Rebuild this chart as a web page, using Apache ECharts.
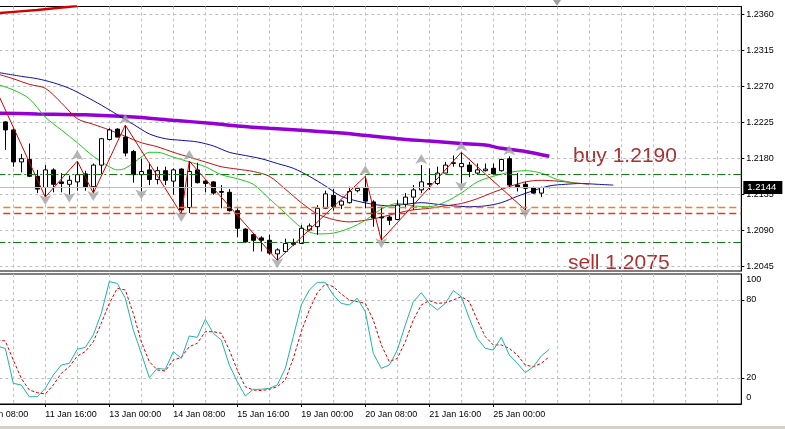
<!DOCTYPE html>
<html lang="en">
<head>
<meta charset="UTF-8">
<title>EURUSD H4</title>
<script src="https://cdn.jsdelivr.net/npm/echarts@6/dist/echarts.min.js"></script>
<style>
  html, body { margin: 0; padding: 0; background: #fff; }
  #chart { width: 785px; height: 429px; }
</style>
</head>
<body>
<div id="chart"></div>
<script>
    // category 0 sits three bars left of the first visible candle
    var firstBar = -3;
    var barCount = 96;
    function cat(b) { return b - firstBar; }

    var timeLabels = ['8 Jan 08:00', '11 Jan 16:00', '13 Jan 00:00', '14 Jan 08:00', '15 Jan 16:00',
        '19 Jan 00:00', '20 Jan 08:00', '21 Jan 16:00', '25 Jan 00:00'];
    var priceTicks = [1.2045, 1.2090, 1.2135, 1.2180, 1.2225, 1.2270, 1.2315, 1.2360];
    var stochTicks = [0, 20, 80, 100];

    // H4 bars 0..68
    var opens = [1.2226, 1.2216, 1.2176, 1.2179, 1.2158, 1.2144, 1.2166, 1.2151, 1.2148, 1.2151,
        1.2161, 1.2145, 1.2172, 1.2204, 1.2217, 1.2207, 1.2189, 1.2160, 1.2166, 1.2154,
        1.2165, 1.2152, 1.2167, 1.2119, 1.2166, 1.2152, 1.2151, 1.2139, 1.2138, 1.2115,
        1.2092, 1.2085, 1.2081, 1.2078, 1.2061, 1.2064, 1.2075, 1.2074, 1.2091, 1.2095,
        1.2118, 1.2134, 1.2122, 1.2125, 1.2140, 1.2143, 1.2126, 1.2107, 1.2107, 1.2104,
        1.2123, 1.2132, 1.2141, 1.2149, 1.2149, 1.2162, 1.2174, 1.2170, 1.2172, 1.2162,
        1.2165, 1.2168, 1.2165, 1.2180, 1.2147, 1.2148, 1.2144, 1.2137, 1.2144];
    var highs = [1.2227, 1.2218, 1.2186, 1.2199, 1.2166, 1.2172, 1.2168, 1.2162, 1.2159, 1.2177,
        1.2165, 1.2174, 1.2206, 1.2218, 1.2218, 1.2222, 1.2191, 1.2180, 1.2175, 1.2170,
        1.2170, 1.2168, 1.2168, 1.2177, 1.2175, 1.2153, 1.2152, 1.2147, 1.2142, 1.2118,
        1.2093, 1.2087, 1.2083, 1.2085, 1.2068, 1.2080, 1.2080, 1.2097, 1.2099, 1.2122,
        1.2140, 1.2142, 1.2128, 1.2145, 1.2145, 1.2158, 1.2128, 1.2120, 1.2109, 1.2128,
        1.2137, 1.2147, 1.2172, 1.2168, 1.2170, 1.2176, 1.2184, 1.2188, 1.2176, 1.2174,
        1.2174, 1.2174, 1.2180, 1.2183, 1.2162, 1.2151, 1.2145, 1.2145, 1.2145];
    var lows = [1.2191, 1.2170, 1.2163, 1.2157, 1.2137, 1.2132, 1.2138, 1.2138, 1.2135, 1.2140,
        1.2140, 1.2137, 1.2161, 1.2203, 1.2207, 1.2183, 1.2150, 1.2139, 1.2147, 1.2148,
        1.2147, 1.2135, 1.2111, 1.2112, 1.2149, 1.2138, 1.2135, 1.2118, 1.2114, 1.2082,
        1.2075, 1.2064, 1.2064, 1.2060, 1.2053, 1.2062, 1.2071, 1.2074, 1.2090, 1.2085,
        1.2117, 1.2115, 1.2117, 1.2124, 1.2138, 1.2118, 1.2095, 1.2078, 1.2097, 1.2103,
        1.2118, 1.2116, 1.2137, 1.2141, 1.2147, 1.2162, 1.2170, 1.2149, 1.2157, 1.2160,
        1.2164, 1.2160, 1.2164, 1.2143, 1.2139, 1.2116, 1.2136, 1.2132, 1.2143];
    var closes = [1.2216, 1.2176, 1.2180, 1.2158, 1.2142, 1.2166, 1.2148, 1.2149, 1.2153, 1.2160,
        1.2145, 1.2172, 1.2205, 1.2216, 1.2207, 1.2187, 1.2160, 1.2164, 1.2154, 1.2165,
        1.2153, 1.2166, 1.2116, 1.2164, 1.2150, 1.2149, 1.2137, 1.2138, 1.2115, 1.2093,
        1.2076, 1.2078, 1.2078, 1.2062, 1.2066, 1.2074, 1.2073, 1.2093, 1.2096, 1.2118,
        1.2136, 1.2120, 1.2127, 1.2139, 1.2143, 1.2127, 1.2106, 1.2106, 1.2103, 1.2122,
        1.2132, 1.2141, 1.2151, 1.2148, 1.2162, 1.2172, 1.2175, 1.2174, 1.2164, 1.2166,
        1.2167, 1.2161, 1.2179, 1.2147, 1.2145, 1.2143, 1.2137, 1.2144, 1.2144];

    // [bar, price]
    var zigzag = [[-1, 1.2263], [5, 1.2132], [9, 1.2177], [11, 1.2137], [15, 1.2222], [22, 1.2111],
        [23, 1.2177], [34, 1.2053], [45, 1.2158], [47, 1.2078], [57, 1.2188], [65, 1.2116]];
    var fractalUp = [9, 15, 23, 45, 52, 57, 63];
    var fractalDown = [5, 8, 11, 17, 22, 34, 47, 57, 65];

    var maSlow = [[-1, 1.2237], [4, 1.2236], [10, 1.2235], [16, 1.2232], [21, 1.2228], [26, 1.2224],
        [29, 1.2221], [33, 1.2218], [38, 1.2215], [42, 1.2212], [46, 1.2208], [49, 1.2205],
        [53, 1.2202], [57, 1.2199], [60, 1.2197], [62, 1.2193], [65, 1.2189], [68, 1.2183]];
    var maTop = [[-1, 1.2362], [4, 1.2366], [9, 1.2371]];
    var jaw = [[-1, 1.2288], [2, 1.2283], [4, 1.2280], [6, 1.2275], [8, 1.2268], [10, 1.2258],
        [12, 1.2247], [14, 1.2235], [16, 1.2223], [18, 1.2211], [20, 1.2205], [22, 1.2203],
        [24, 1.2201], [26, 1.2196], [28, 1.2188], [30, 1.2184], [32, 1.2180], [34, 1.2174],
        [36, 1.2168], [38, 1.2158], [40, 1.2146], [42, 1.2133], [44, 1.2127], [46, 1.2123],
        [48, 1.2121], [50, 1.2123], [52, 1.2125], [54, 1.2123], [56, 1.2121], [58, 1.2120],
        [60, 1.2121], [62, 1.2125], [64, 1.2133], [66, 1.2140], [68, 1.2146], [70, 1.2148],
        [72, 1.2149], [74, 1.2148], [76, 1.2147]];
    var teeth = [[-1, 1.2286], [1, 1.2280], [3, 1.2273], [5, 1.2268], [7, 1.2250], [9, 1.2230],
        [11, 1.2223], [13, 1.2216], [15, 1.2208], [17, 1.2200], [19, 1.2195], [21, 1.2188],
        [23, 1.2182], [25, 1.2176], [27, 1.2170], [29, 1.2167], [31, 1.2164], [33, 1.2158],
        [35, 1.2142], [37, 1.2125], [39, 1.2111], [41, 1.2104], [43, 1.2101], [45, 1.2103],
        [47, 1.2107], [49, 1.2112], [51, 1.2116], [53, 1.2118], [55, 1.2121], [57, 1.2124],
        [59, 1.2130], [61, 1.2138], [63, 1.2145], [65, 1.2151], [67, 1.2153], [69, 1.2152],
        [71, 1.2150], [73, 1.2148]];
    var lips = [[-1, 1.2273], [1, 1.2266], [3, 1.2255], [5, 1.2232], [7, 1.2216], [9, 1.2200],
        [11, 1.2183], [13, 1.2170], [14, 1.2166], [15, 1.2168], [17, 1.2182], [18, 1.2188],
        [19, 1.2188], [21, 1.2182], [23, 1.2176], [25, 1.2170], [27, 1.2160], [29, 1.2155],
        [31, 1.2148], [33, 1.2130], [35, 1.2112], [37, 1.2094], [39, 1.2086], [41, 1.2087],
        [43, 1.2093], [45, 1.2103], [47, 1.2117], [49, 1.2124], [51, 1.2121], [53, 1.2120],
        [55, 1.2126], [57, 1.2137], [59, 1.2151], [61, 1.2158], [63, 1.2163], [65, 1.2165],
        [67, 1.2162], [69, 1.2154], [71, 1.2150]];

    // stochastic, from bar -1 to bar 68
    var stochMain = [44.5, 42.8, 15.9, 14.6, 5.6, 5.6, 12.1, 22.3, 30.0, 31.3, 42.1, 43.6, 53.1, 69.7,
        94.1, 92.8, 81.3, 56.9, 39.0, 20.3, 27.4, 26.7, 40.3, 35.1, 52.3, 51.3, 65.1, 54.4, 49.2,
        30.0, 17.2, 6.2, 11.3, 11.3, 12.1, 14.6, 27.4, 51.8, 76.2, 87.7, 93.6, 93.6, 83.8, 77.4,
        76.2, 81.3, 71.0, 39.0, 27.4, 30.0, 41.5, 60.8, 78.7, 85.6, 77.4, 72.3, 77.4, 87.2, 82.6,
        65.9, 50.5, 42.8, 41.5, 51.3, 37.7, 31.3, 24.1, 28.7, 36.9, 42.1];
    var stochSignal = [49.2, 48.5, 33.8, 19.7, 10.8, 8.7, 7.7, 14.6, 23.6, 28.7, 36.9, 40.3, 47.9, 62.1,
        77.4, 89.0, 87.7, 69.7, 47.9, 32.6, 26.2, 25.4, 33.8, 35.9, 44.1, 46.7, 55.6, 55.6, 54.4,
        41.5, 26.2, 13.3, 10.8, 10.3, 11.3, 13.3, 18.5, 35.1, 55.6, 72.3, 85.6, 92.3, 90.3, 84.6,
        80.0, 78.7, 77.4, 64.6, 45.4, 32.6, 35.1, 47.9, 64.6, 76.2, 79.5, 77.4, 77.9, 80.0, 82.6,
        78.7, 64.6, 51.8, 45.4, 45.4, 42.8, 37.7, 30.0, 28.7, 31.3, 36.4];
    var stochFirstBar = -1;

    var bid = 1.2144;
    var buyLine = 1.2160;
    var sellLine = 1.2075;
    var orderA = 1.2119;
    var orderB = 1.2112;

    var categories = [];
    for (var i = 0; i < barCount; i++) categories.push(String(i + firstBar));

    function pairs(list) {
        return list.map(function (p) { return [cat(p[0]), p[1]]; });
    }
    function stochPairs(list) {
        return list.map(function (v, k) { return [cat(k + stochFirstBar), v]; });
    }

    var candleData = opens.map(function (o, i) {
        return [cat(i), o, closes[i], lows[i], highs[i]];
    });

    var font = '"Liberation Sans", Arial, sans-serif';
    var gridDash = { color: '#c0c0c0', type: [3, 3], width: 1 };

    function xAxisFor(gridIndex, withLabels) {
        return {
            type: 'category',
            gridIndex: gridIndex,
            data: categories,
            boundaryGap: false,
            axisLine: { show: withLabels, lineStyle: { color: '#000' } },
            axisTick: {
                show: withLabels,
                length: 3,
                lineStyle: { color: '#000' },
                interval: function (idx) { return idx % 8 === 0 && idx / 8 < timeLabels.length; }
            },
            axisLabel: {
                show: withLabels,
                align: 'left',
                margin: 6,
                color: '#000',
                fontSize: 9,
                fontFamily: font,
                interval: function (idx) { return idx % 8 === 0 && idx / 8 < timeLabels.length; },
                formatter: function (val, idx) { return timeLabels[idx / 8] || ''; }
            },
            splitLine: {
                show: true,
                interval: function (idx) { return idx % 4 === 0; },
                lineStyle: gridDash
            }
        };
    }

    var chart = echarts.init(document.getElementById('chart'));
    chart.setOption({
        animation: false,
        backgroundColor: '#fff',
        grid: [
            { left: -18.7, right: 43.7, top: 6.5, height: 264.5, outerBoundsMode: 'none', containLabel: false,
              show: true, borderColor: '#000', borderWidth: 1, backgroundColor: '#fff' },
            { left: -18.7, right: 43.7, top: 274, height: 130, outerBoundsMode: 'none', containLabel: false,
              show: true, borderColor: '#000', borderWidth: 1, backgroundColor: '#fff' }
        ],
        xAxis: [xAxisFor(0, false), xAxisFor(1, true)],
        yAxis: [
            {
                type: 'value',
                gridIndex: 0,
                position: 'right',
                min: 1.20396,
                max: 1.23703,
                axisLine: { show: true, lineStyle: { color: '#000' } },
                axisTick: { show: true, length: 3, customValues: priceTicks, lineStyle: { color: '#000' } },
                axisLabel: {
                    customValues: priceTicks,
                    margin: 5,
                    color: '#000',
                    fontSize: 9,
                    fontFamily: font,
                    formatter: function (v) { return v.toFixed(4); }
                },
                splitLine: { show: true, lineStyle: gridDash }
            },
            {
                type: 'value',
                gridIndex: 1,
                position: 'right',
                min: 0,
                max: 100,
                axisLine: { show: true, lineStyle: { color: '#000' } },
                axisTick: { show: true, length: 3, customValues: [20, 80], lineStyle: { color: '#000' } },
                axisLabel: {
                    customValues: stochTicks,
                    margin: 5,
                    color: '#000',
                    fontSize: 9,
                    fontFamily: font,
                    formatter: function (v) {
                        if (v === 100) return '{t|100}';
                        if (v === 0) return '{b|0}';
                        return String(v);
                    },
                    rich: {
                        t: { fontSize: 9, fontFamily: font, color: '#000', padding: [12, 0, 0, 0] },
                        b: { fontSize: 9, fontFamily: font, color: '#000', padding: [0, 0, 12, 0] }
                    }
                },
                splitLine: { show: true, lineStyle: gridDash }
            }
        ],
        series: [
            {
                name: 'levels',
                type: 'line',
                xAxisIndex: 0,
                yAxisIndex: 0,
                data: [],
                z: 1,
                markLine: {
                    silent: true,
                    symbol: 'none',
                    precision: 4,
                    animation: false,
                    label: { show: false },
                    data: [
                        { yAxis: buyLine, lineStyle: { color: '#137a13', type: [8, 3, 2, 3], width: 1 } },
                        { yAxis: sellLine, lineStyle: { color: '#137a13', type: [8, 3, 2, 3], width: 1 } },
                        { yAxis: orderA, lineStyle: { color: '#ff7a1a', type: [7, 4], width: 1.3 } },
                        { yAxis: orderB, lineStyle: { color: '#e23a1c', type: [7, 4], width: 1.3 } },
                        {
                            yAxis: bid,
                            lineStyle: { color: '#bdbdbd', type: 'solid', width: 1 },
                            label: {
                                show: true,
                                position: 'end',
                                distance: 2,
                                formatter: bid.toFixed(4),
                                backgroundColor: '#000',
                                color: '#fff',
                                fontSize: 9.5,
                                fontFamily: font,
                                padding: [2, 6, 1, 4]
                            }
                        }
                    ]
                }
            },
            {
                name: 'MA top',
                type: 'line',
                data: pairs(maTop),
                symbol: 'none',
                smooth: 0.3,
                lineStyle: { color: '#d40000', width: 2.5 },
                z: 2
            },
            {
                name: 'MA slow',
                type: 'line',
                data: pairs(maSlow),
                symbol: 'none',
                smooth: 0.3,
                lineStyle: { color: '#9400d3', width: 3.5 },
                z: 2
            },
            {
                name: 'Jaw',
                type: 'line',
                data: pairs(jaw),
                symbol: 'none',
                smooth: 0.3,
                lineStyle: { color: '#0c0ca8', width: 1 },
                z: 2
            },
            {
                name: 'Teeth',
                type: 'line',
                data: pairs(teeth),
                symbol: 'none',
                smooth: 0.3,
                lineStyle: { color: '#c01010', width: 1 },
                z: 2
            },
            {
                name: 'Lips',
                type: 'line',
                data: pairs(lips),
                symbol: 'none',
                smooth: 0.3,
                lineStyle: { color: '#22c322', width: 1 },
                z: 2
            },
            {
                name: 'Price',
                type: 'candlestick',
                data: candleData,
                encode: { x: 0, y: [1, 2, 3, 4] },
                barWidth: 5,
                itemStyle: {
                    color: '#fff',
                    color0: '#000',
                    borderColor: '#000',
                    borderColor0: '#000',
                    borderWidth: 1
                },
                z: 3
            },
            {
                name: 'ZigZag',
                type: 'line',
                data: pairs(zigzag),
                symbol: 'none',
                lineStyle: { color: '#d00000', width: 1 },
                z: 4
            },
            {
                name: 'Fractal up',
                type: 'scatter',
                data: fractalUp.map(function (b) { return [cat(b), highs[b]]; }),
                symbol: 'arrow',
                symbolSize: [9, 10],
                symbolOffset: [0, -11],
                itemStyle: { color: '#a3a3a3' },
                z: 5
            },
            {
                name: 'Fractal down',
                type: 'scatter',
                data: fractalDown.map(function (b) { return [cat(b), lows[b]]; }),
                symbol: 'arrow',
                symbolRotate: 180,
                symbolSize: [9, 10],
                symbolOffset: [0, 8],
                itemStyle: { color: '#a3a3a3' },
                z: 5
            },
            {
                name: 'Stoch main',
                type: 'line',
                xAxisIndex: 1,
                yAxisIndex: 1,
                data: stochPairs(stochMain),
                symbol: 'none',
                lineStyle: { color: '#20b2aa', width: 1 },
                z: 3
            },
            {
                name: 'Stoch signal',
                type: 'line',
                xAxisIndex: 1,
                yAxisIndex: 1,
                data: stochPairs(stochSignal),
                symbol: 'none',
                lineStyle: { color: '#d00000', width: 1, type: [3, 2] },
                z: 2
            }
        ],
        graphic: [
            { type: 'text', left: 573, top: 146, style: { text: 'buy 1.2190', fill: '#a83030', font: '21px ' + font } },
            { type: 'text', left: 568, top: 253, style: { text: 'sell 1.2075', fill: '#a83030', font: '21px ' + font } },
            { type: 'polygon', shape: { points: [[553, 0], [561, 0], [557, 6]] }, style: { fill: '#a0a0a0' } },
            { type: 'rect', shape: { x: 0, y: 426, width: 785, height: 3 }, style: { fill: '#d4d0c8' } }
        ]
    });
</script>
</body>
</html>
